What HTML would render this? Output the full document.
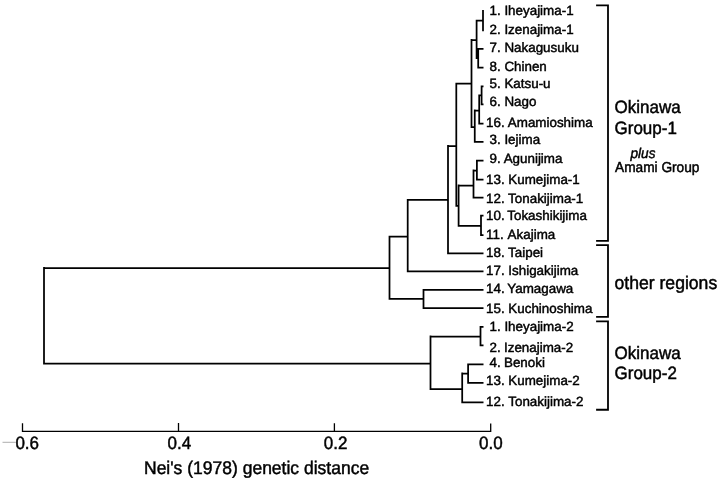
<!DOCTYPE html>
<html><head><meta charset="utf-8"><style>
html,body{margin:0;padding:0;background:#fff;}
svg{display:block;will-change:transform;}
text{font-family:"Liberation Sans",sans-serif;fill:#000;stroke:#000;stroke-width:0.45px;text-rendering:geometricPrecision;}
</style></head><body>
<svg width="720" height="480" viewBox="0 0 720 480">
<path d="M483.00 10.12V31.27M478.20 47.88V68.38M477.32 48.75H483.50M477.32 67.50H483.50M476.60 19.82V58.98M475.73 20.70H483.00M481.60 85.38V105.28M480.73 86.25H483.50M480.73 104.40H483.50M479.20 94.42V124.38M478.32 95.30H481.60M478.32 123.50H483.50M474.75 109.62V142.78M473.88 110.50H479.20M473.88 141.90H483.50M471.50 39.12V127.88M470.62 40.00H476.60M470.62 127.00H474.75M476.90 159.82V180.38M476.02 160.70H483.50M476.02 179.50H483.50M473.50 169.62V198.38M472.62 170.50H476.90M472.62 197.50H483.50M481.00 214.72V235.88M480.12 215.60H483.50M480.12 235.00H483.50M458.60 184.62V226.68M457.73 185.50H473.50M457.73 225.80H481.00M456.30 82.83V206.68M455.43 83.70H471.50M455.43 205.80H458.60M448.00 145.12V254.18M447.12 146.00H456.30M447.12 253.30H483.50M407.70 199.03V272.27M406.82 199.90H448.00M406.82 271.40H483.50M423.50 289.02V308.98M422.62 289.90H483.50M422.62 308.10H483.50M389.50 235.82V299.77M388.62 236.70H407.70M388.62 298.90H423.50M44.00 267.12V364.48M43.12 268.00H389.50M43.12 363.60H430.50M480.50 325.93V346.18M479.62 326.80H483.50M479.62 345.30H483.50M468.10 363.43V383.77M467.23 364.30H483.50M467.23 382.90H483.50M462.20 372.62V403.18M461.32 373.50H468.10M461.32 402.30H483.50M430.50 335.62V390.07M429.62 336.50H480.50M429.62 389.20H462.20" fill="none" stroke="#000" stroke-width="1.75"/>
<path d="M596.1 5.40H608V240.90H596.1M596.1 245.10H608V316.80H596.1M596.1 321.30H608V409.75H596.1" fill="none" stroke="#000" stroke-width="1.8"/>
<g font-size="13.4">
<text transform="translate(489.5 15) scale(1 1.0)">1. Iheyajima-1</text>
<text transform="translate(489.5 34) scale(1 1.0)">2. Izenajima-1</text>
<text transform="translate(489.5 52) scale(1 1.0)">7. Nakagusuku</text>
<text transform="translate(489.5 71) scale(1 1.0)">8. Chinen</text>
<text transform="translate(489.5 88) scale(1 1.0)">5. Katsu-u</text>
<text transform="translate(489.5 106) scale(1 1.0)">6. Nago</text>
<text transform="translate(486.0 127) scale(1 1.0)">16. <tspan dx="0.2">Amamioshima</tspan></text>
<text transform="translate(489.5 144) scale(1 1.0)">3. Iejima</text>
<text transform="translate(489.5 163) scale(1 1.0)">9. Agunijima</text>
<text transform="translate(486.0 184) scale(1 1.0)">13. Kumejima-1</text>
<text transform="translate(486.0 203) scale(1 1.0)">12. Tonakijima-1</text>
<text transform="translate(486.0 220) scale(1 1.0)">10. <tspan dx="-0.8">Tokashikijima</tspan></text>
<text transform="translate(486.0 239) scale(1 1.0)">11. <tspan dx="1.0">Akajima</tspan></text>
<text transform="translate(486.0 257) scale(1 1.0)">18. Taipei</text>
<text transform="translate(486.0 275) scale(1 1.0)">17. Ishigakijima</text>
<text transform="translate(486.0 293) scale(1 1.0)">14. <tspan dx="-0.8">Yamagawa</tspan></text>
<text transform="translate(486.0 313) scale(1 1.0)">15. Kuchinoshima</text>
<text transform="translate(489.5 331) scale(1 1.0)">1. Iheyajima-2</text>
<text transform="translate(489.5 352) scale(1 1.0)">2. <tspan dx="-0.4">Izenajima-2</tspan></text>
<text transform="translate(489.5 367) scale(1 1.0)">4. <tspan dx="-0.4">Benoki</tspan></text>
<text transform="translate(486.0 385) scale(1 1.0)">13. Kumejima-2</text>
<text transform="translate(486.0 406) scale(1 1.0)">12. <tspan dx="0.2">Tonakijima-2</tspan></text>
</g>
<g font-size="17">
<text transform="translate(614.5 113) scale(1 1.05)">Okinawa</text>
<text transform="translate(614.5 134) scale(1 1.05)">Group-1</text>
<text transform="translate(614.5 289.3) scale(1 1.05)" font-size="17.6">other regions</text>
<text transform="translate(614.5 359.0) scale(1 1.05)">Okinawa</text>
<text transform="translate(614.5 379) scale(1 1.05)">Group-2</text>
</g>
<g font-size="13.6">
<text transform="translate(630.5 157.8) scale(1 1.05)" font-style="italic">plus</text>
<text transform="translate(615.0 172) scale(1 1.05)" font-size="13.7">Amami Group</text>
</g>
<path d="M22.5 423.3V431.4H490.7V423.5M178.5 423.0V431.4M334.4 423.3V431.4" fill="none" stroke="#000" stroke-width="1.3"/>
<path d="M2.5 442.3H15.8" stroke="#999" stroke-width="0.8"/>
<g font-size="17">
<text transform="translate(15.4 449) scale(1 1.05)">0.6</text>
<text transform="translate(167.5 449) scale(1 1.05)">0.4</text>
<text transform="translate(323.8 449) scale(1 1.05)">0.2</text>
<text transform="translate(479 449) scale(1 1.05)">0.0</text>
</g>
<g font-size="17.5">
<text transform="translate(144 474) scale(1 1.05)">Nei's (1978) genetic distance</text>
</g>
</svg>
</body></html>
